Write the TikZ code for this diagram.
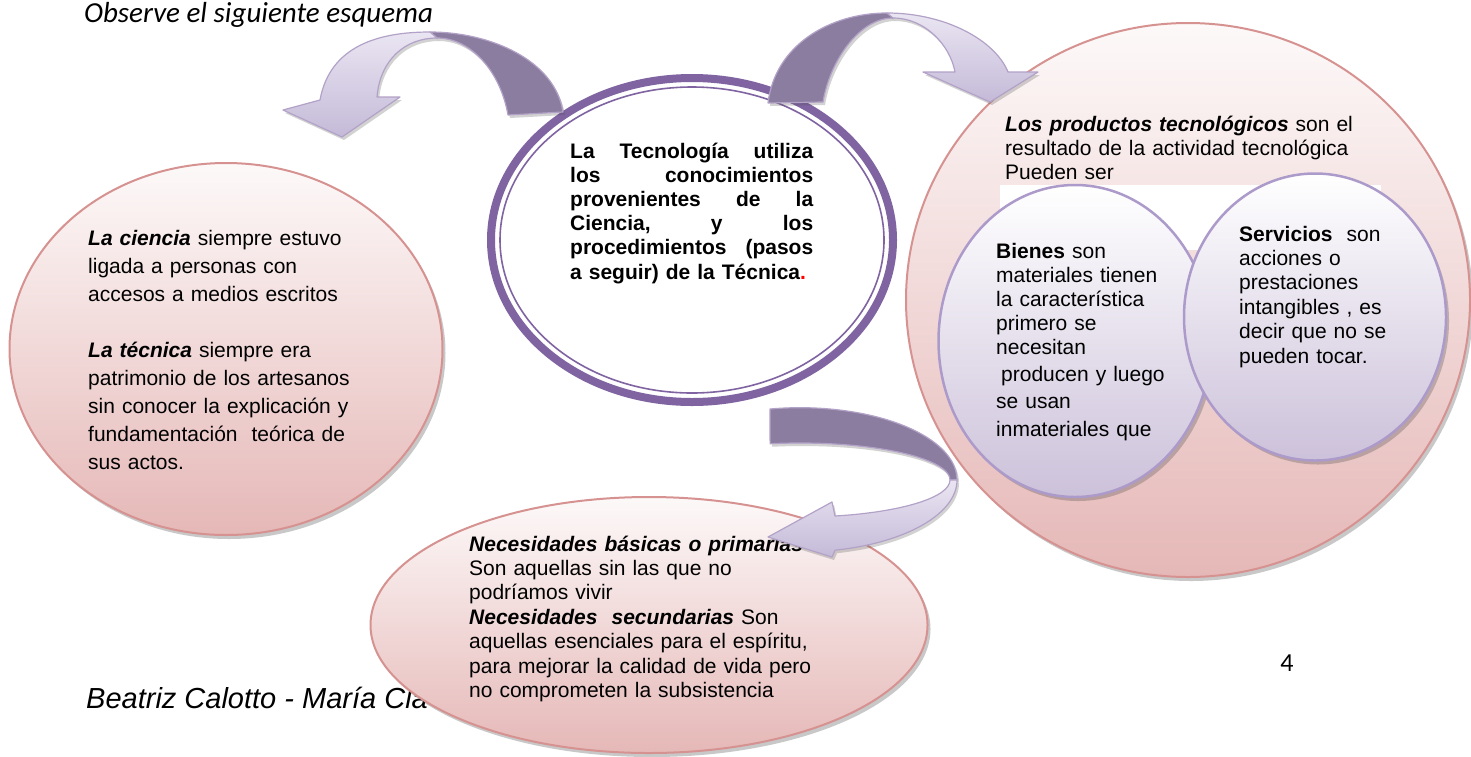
\documentclass[tikz,border=0pt]{standalone}
\usepackage{fontspec}
\setmainfont{Liberation Sans}
\newfontfamily\calibri{Carlito}
\usetikzlibrary{shapes.geometric,shadows}
\definecolor{pinkline}{RGB}{214,146,144}
\definecolor{pinkbot}{RGB}{229,184,183}
\definecolor{pinktop}{RGB}{253,249,249}
\definecolor{lavline}{RGB}{172,155,202}
\definecolor{lavbot}{RGB}{204,193,218}
\definecolor{ringcol}{RGB}{128,100,162}
\definecolor{arrdark}{RGB}{139,125,160}
\definecolor{arrlight}{RGB}{234,229,242}
\definecolor{arrlightb}{RGB}{196,186,216}
\definecolor{arredge}{RGB}{179,162,199}
\definecolor{dotred}{RGB}{255,0,0}
\newcommand{\jline}[1]{\leavevmode\hbox to 243pt{#1}}
\begin{document}
\begin{tikzpicture}[x=1pt,y=-1pt,
  softshadow/.style={drop shadow={shadow xshift=3pt,shadow yshift=-4pt,opacity=0.3,fill=black!70}},
  pinkell/.style={ellipse,inner sep=0pt,draw=pinkline,line width=2pt,top color=pinktop,bottom color=pinkbot,softshadow},
  lavell/.style={ellipse,inner sep=0pt,draw=lavline,line width=2.5pt,top color=white,bottom color=lavbot,softshadow},
  txt/.style={inner sep=0pt,anchor=base west,align=left,text width=#1},
  txt/.default=400pt,
  arrshadow/.style={drop shadow={shadow xshift=2pt,shadow yshift=-3pt,opacity=0.25,fill=black!70}},
  arrdarkpart/.style={fill=arrdark,draw=arredge,line width=1.2pt,line join=round,arrshadow},
  arrlightpart/.style={top color=arrlight,bottom color=arrlightb,draw=arredge,line width=1.2pt,line join=round,arrshadow}
]
\useasboundingbox (0,0) rectangle (1471,756);
\fill[white] (0,0) rectangle (1471,756);

% title
\node[inner sep=0pt,anchor=base west,font=\calibri\itshape\fontsize{29}{31}\selectfont] (title) at (84,22) {Observe el siguiente esquema};

% left ellipse
\node[pinkell,minimum width=433pt,minimum height=372pt] (ciencia) at (226,349) {};
\node[txt=320pt,font=\fontsize{21}{28}\selectfont] (cienciatxt) at (88,245)
 {\textbf{\textit{La ciencia}} siempre estuvo\\
  ligada a personas con\\
  accesos a medios escritos\\[28pt]
  \textbf{\textit{La técnica}} siempre era\\
  patrimonio de los artesanos\\
  sin conocer la explicación y\\
  fundamentación\ \ teórica de\\
  sus actos.};

% right big circle
\node[pinkell,minimum width=564pt,minimum height=554pt] (productos) at (1188,300) {};
\fill[white] (1000,185) rectangle (1381,250);
\node[txt,font=\fontsize{21}{24.4}\selectfont] (productostxt) at (1005,131)
 {\textbf{\textit{Los productos tecnológicos}} son el\\
  resultado de la actividad tecnológica\\
  Pueden ser};
\node[lavell,minimum width=273pt,minimum height=312pt] (bienes) at (1075,341) {};
\node[lavell,minimum width=262pt,minimum height=287pt] (servicios) at (1315,317) {};
\node[txt=200pt,font=\fontsize{21}{24}\selectfont] (bienestxt) at (996,258)
 {\textbf{Bienes} son\\
  materiales tienen\\
  la característica\\
  primero se\\
  necesitan\\[3pt]
  \hspace*{5pt}producen y luego\\[3pt]
  se usan\\[4pt]
  inmateriales que};
\node[txt=200pt,font=\fontsize{21}{24.4}\selectfont] (serviciostxt) at (1239,241)
 {\textbf{Servicios}\ \ son\\
  acciones o\\
  prestaciones\\
  intangibles , es\\
  decir que no se\\
  pueden tocar.};

% footer and bottom ellipse
\node[inner sep=0pt,anchor=base west,font=\itshape\fontsize{29}{32}\selectfont] (footer) at (86,708) {Beatriz Calotto - María Cla};
\node[inner sep=0pt,font=\calibri\fontsize{26}{28}\selectfont] (pagenum) at (1287,663) {4};
\node[pinkell,minimum width=557pt,minimum height=256pt] (necesidades) at (649,625) {};
\node[txt,font=\fontsize{21}{24.4}\selectfont] (necesidadestxt) at (469,551)
 {\textbf{\textit{Necesidades básicas o primarias}}\\
  Son aquellas sin las que no\\
  podríamos vivir\\
  \textbf{\textit{Necesidades\ \ secundarias}} Son\\
  aquellas esenciales para el espíritu,\\
  para mejorar la calidad de vida pero\\
  no comprometen la subsistencia};

% centre ellipse
\node[ellipse,inner sep=0pt,draw=ringcol,line width=8pt,fill=white,minimum width=402pt,minimum height=324pt] (tecnologia) at (692,240) {};
\node[ellipse,inner sep=0pt,draw=ringcol,line width=1.6pt,minimum width=384pt,minimum height=306pt] (tecnologiain) at (692,240) {};
\node[txt=250pt,font=\bfseries\fontsize{21}{24.2}\selectfont] (tecnologiatxt) at (570,158)
 {\jline{La\hfill Tecnología\hfill utiliza}\\
  \jline{los\hfill conocimientos}\\
  \jline{provenientes\hfill de\hfill la}\\
  \jline{Ciencia,\hfill y\hfill los}\\
  \jline{procedimientos\hfill (pasos}\\
  a seguir) de la Técnica\textcolor{dotred}{.}};

% arrow 1 (to the left circle)
\path[arrdarkpart] (430,32) .. controls (490,32) and (555,60) .. (563,112)
  -- (508,115) .. controls (500,70) and (470,38) .. (437,38) -- cycle;
\path[arrlightpart] (437,38) .. controls (405,38) and (380,60) .. (377,97)
  -- (400,97) -- (342,137) -- (283,110) -- (320,100)
  .. controls (330,45) and (380,32) .. (430,32) -- cycle;

% arrow 2 (to the right circle)
\path[arrdarkpart] (768,103) .. controls (775,45) and (830,13) .. (887,13)
  -- (893,18) .. controls (860,18) and (830,60) .. (823,102) -- cycle;
\path[arrlightpart] (887,13) .. controls (945,13) and (995,40) .. (1008,72)
  -- (1038,72) -- (990,102) -- (923,72) -- (955,72)
  .. controls (950,45) and (925,18) .. (893,18) -- cycle;

% arrow 3 (to the bottom ellipse)
\path[arrdarkpart] (770,409) arc[start angle=-101,end angle=0,x radius=157,y radius=72]
  -- (950,480) arc[start angle=0,end angle=-101.5,x radius=150,y radius=37] -- cycle;
\path[arrlightpart] (957,480) arc[start angle=0,end angle=77.1,x radius=157,y radius=72]
  -- (832,557) -- (768,537) -- (832,502) -- (835,516)
  arc[start angle=76.5,end angle=0,x radius=150,y radius=37] -- cycle;
\end{tikzpicture}
\end{document}
